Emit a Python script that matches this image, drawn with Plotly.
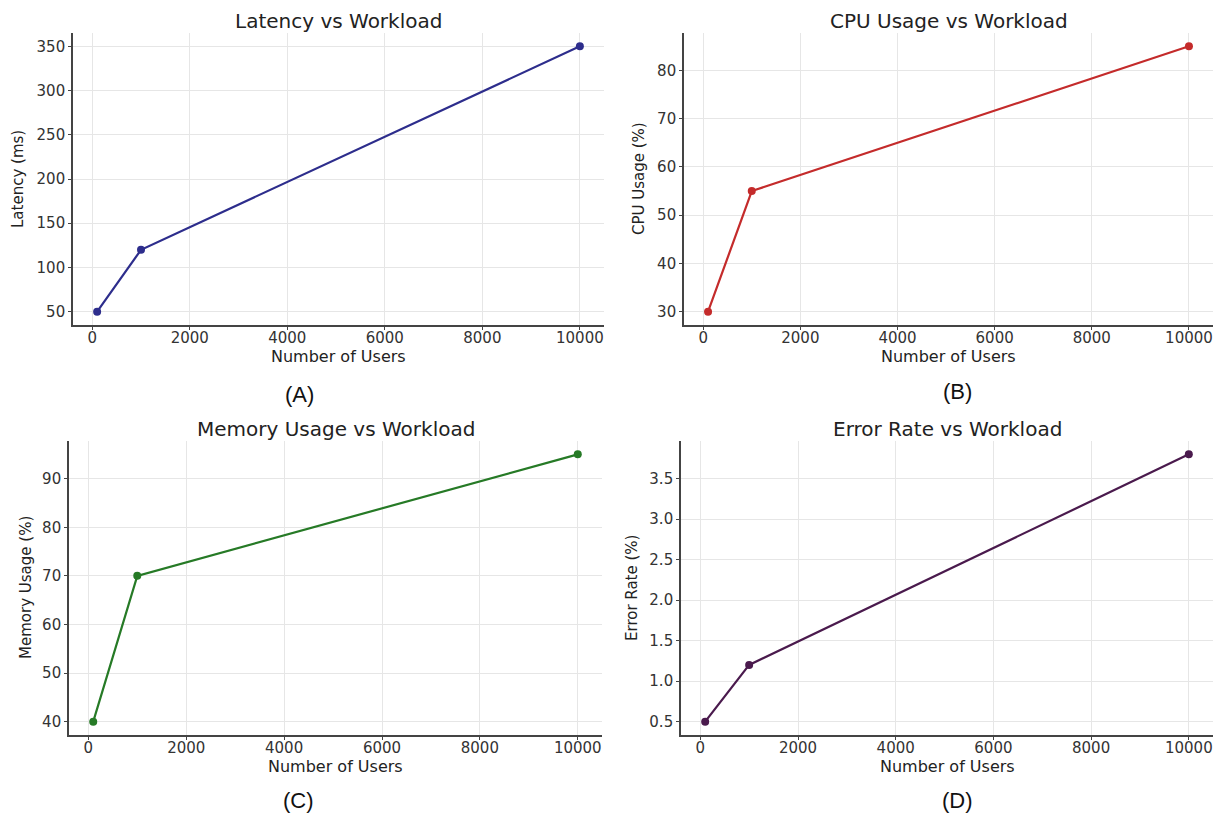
import plotly.graph_objects as go

users = [100, 1000, 10000]
latency = [50, 120, 350]
cpu = [30, 55, 85]
memory = [40, 70, 95]
error_rate = [0.5, 1.2, 3.8]

titles = ["Latency vs Workload", "CPU Usage vs Workload", "Memory Usage vs Workload", "Error Rate vs Workload"]
ylabels = ["Latency (ms)", "CPU Usage (%)", "Memory Usage (%)", "Error Rate (%)"]
panel_labels = ["(A)", "(B)", "(C)", "(D)"]
series = [latency, cpu, memory, error_rate]
colors = ["#2d2d8c", "#c42b2b", "#267a26", "#4a1a4d"]
x_ticks = [0, 2000, 4000, 6000, 8000, 10000]
y_ticks = [
    [50, 100, 150, 200, 250, 300, 350],
    [30, 40, 50, 60, 70, 80],
    [40, 50, 60, 70, 80, 90],
    [0.5, 1.0, 1.5, 2.0, 2.5, 3.0, 3.5],
]
y_ticktext = [
    None, None, None,
    ["0.5", "1.0", "1.5", "2.0", "2.5", "3.0", "3.5"],
]

W, H = 1221, 816
OFF = 8  # page body margin: screen = figure + OFF


def fx(sx):
    return (sx - OFF) / W


def fy(sy):
    return 1 - (sy - OFF) / H


# screen pixel boxes: (left, right, top, bottom)
boxes = [
    (73, 604, 33, 325),
    (684, 1213, 33, 325),
    (69, 602, 441, 735),
    (681, 1213, 441, 735),
]
ylabel_x = [18, 639, 26, 632]
panel_pos = [(299, 394), (957, 391), (298, 800), (957, 800)]

fig = go.Figure()
font_main = "DejaVu Sans"
annotations = []

for i in range(4):
    l, r, t, b = boxes[i]
    xa = "x" if i == 0 else f"x{i+1}"
    ya = "y" if i == 0 else f"y{i+1}"
    fig.add_trace(go.Scatter(
        x=users, y=series[i], mode="lines+markers",
        line=dict(color=colors[i], width=2.2),
        marker=dict(color=colors[i], size=8),
        xaxis=xa, yaxis=ya, showlegend=False,
    ))
    ys = series[i]
    ymin, ymax = min(ys), max(ys)
    pad = (ymax - ymin) * 0.05
    xpad = (max(users) - min(users)) * 0.05
    xkey = "xaxis" if i == 0 else f"xaxis{i+1}"
    ykey = "yaxis" if i == 0 else f"yaxis{i+1}"
    axis_common = dict(
        showline=True, linecolor="#444444", linewidth=1.6,
        showgrid=True, gridcolor="#e6e6e6", gridwidth=1,
        zeroline=False, ticks="outside", ticklen=3, tickcolor="#444444",
        tickfont=dict(family=font_main, size=15, color="#333333"),
    )
    fig.layout[xkey] = dict(
        domain=[fx(l), fx(r)], anchor=ya,
        range=[min(users) - xpad, max(users) + xpad],
        tickvals=x_ticks, tickformat="d",
        ticklabelstandoff=-5,
        **axis_common,
    )
    ydict = dict(
        domain=[fy(b), fy(t)], anchor=xa,
        range=[ymin - pad, ymax + pad],
        tickvals=y_ticks[i],
        **axis_common,
    )
    if y_ticktext[i] is not None:
        ydict["ticktext"] = y_ticktext[i]
    fig.layout[ykey] = ydict

    cx = (l + r) / 2
    annotations.append(dict(
        text=titles[i], x=fx(cx), y=fy(t - 12), xref="paper", yref="paper",
        showarrow=False, font=dict(family=font_main, size=20, color="#222222"),
        xanchor="center", yanchor="middle",
    ))
    annotations.append(dict(
        text="Number of Users", x=fx(cx), y=fy(b + 31), xref="paper", yref="paper",
        showarrow=False, font=dict(family=font_main, size=16, color="#222222"),
        xanchor="center", yanchor="middle",
    ))
    annotations.append(dict(
        text=ylabels[i], x=fx(ylabel_x[i]), y=fy((t + b) / 2), xref="paper", yref="paper",
        showarrow=False, textangle=-90, font=dict(family=font_main, size=15, color="#222222"),
        xanchor="center", yanchor="middle",
    ))
    px, py = panel_pos[i]
    annotations.append(dict(
        text=panel_labels[i], x=fx(px), y=fy(py), xref="paper", yref="paper",
        showarrow=False, font=dict(family="Liberation Sans", size=22, color="#111111"),
        xanchor="center", yanchor="middle",
    ))

fig.update_layout(
    width=W, height=H,
    margin=dict(l=0, r=0, t=0, b=0),
    paper_bgcolor="white", plot_bgcolor="white",
    annotations=annotations,
)

fig.write_html("out.html")
